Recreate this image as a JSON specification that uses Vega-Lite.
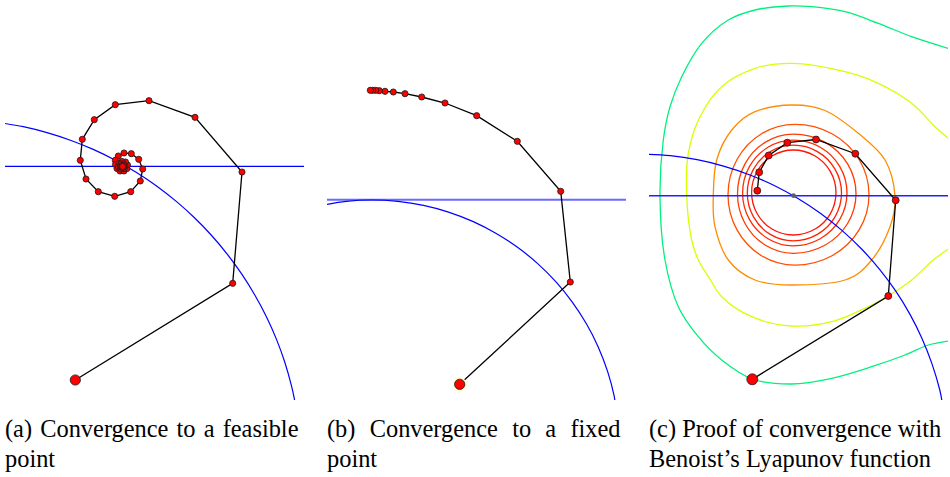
{
  "$schema": "https://vega.github.io/schema/vega-lite/v6.json",
  "background": "white",
  "padding": {"left": 5, "top": 0, "right": 0, "bottom": 0},
  "spacing": 23,
  "config": {
    "view": {"stroke": null},
    "title": {"fontSize": 24.4, "fontWeight": "normal", "color": "#000000", "orient": "bottom", "anchor": "start", "frame": "group", "offset": 17, "lineHeight": 30}
  },
  "hconcat": [
    {
      "spacing": 0,
      "vconcat": [{
      "width": 299, "height": 400,
      "data": {"values": [
        {"s":"arc","i":0,"x":5,"y":123.5},{"s":"arc","i":1,"x":23.2,"y":126.7},{"s":"arc","i":2,"x":47,"y":132.6},{"s":"arc","i":3,"x":70.4,"y":140.2},{"s":"arc","i":4,"x":93.2,"y":149.4},{"s":"arc","i":5,"x":115.3,"y":160.2},{"s":"arc","i":6,"x":136.5,"y":172.5},{"s":"arc","i":7,"x":156.9,"y":186.2},{"s":"arc","i":8,"x":176.3,"y":201.4},{"s":"arc","i":9,"x":194.5,"y":217.8},{"s":"arc","i":10,"x":211.6,"y":235.5},{"s":"arc","i":11,"x":227.4,"y":254.3},{"s":"arc","i":12,"x":241.8,"y":274.2},{"s":"arc","i":13,"x":254.8,"y":295},{"s":"arc","i":14,"x":266.4,"y":316.7},{"s":"arc","i":15,"x":276.4,"y":339.1},{"s":"arc","i":16,"x":284.8,"y":362.2},{"s":"arc","i":17,"x":291.5,"y":385.9},{"s":"arc","i":18,"x":294.6,"y":400},
        {"s":"hline","i":0,"x":5,"y":166.3},{"s":"hline","i":1,"x":304,"y":166.3},
        {"s":"path","i":0,"x":75.3,"y":380},{"s":"path","i":1,"x":232.7,"y":283.3},{"s":"path","i":2,"x":242,"y":172},{"s":"path","i":3,"x":195,"y":117.3},{"s":"path","i":4,"x":149,"y":100.7},{"s":"path","i":5,"x":115.3,"y":104.7},{"s":"path","i":6,"x":94.3,"y":119.7},{"s":"path","i":7,"x":82.3,"y":139.3},{"s":"path","i":8,"x":80.3,"y":160.3},{"s":"path","i":9,"x":86,"y":179},{"s":"path","i":10,"x":98.3,"y":191.7},{"s":"path","i":11,"x":114.7,"y":196.3},{"s":"path","i":12,"x":130.7,"y":191.7},{"s":"path","i":13,"x":140.3,"y":181},{"s":"path","i":14,"x":142.7,"y":169},{"s":"path","i":15,"x":138.7,"y":159.3},{"s":"path","i":16,"x":131.3,"y":153.7},{"s":"path","i":17,"x":124,"y":153},{"s":"path","i":18,"x":118.3,"y":156},{"s":"path","i":19,"x":115.3,"y":160.3},{"s":"path","i":20,"x":115.5,"y":164.5},{"s":"path","i":21,"x":117,"y":168.5},{"s":"path","i":22,"x":120,"y":171},{"s":"path","i":23,"x":124,"y":171},{"s":"path","i":24,"x":127,"y":168.5},{"s":"path","i":25,"x":127.5,"y":165},{"s":"path","i":26,"x":125.5,"y":162},{"s":"path","i":27,"x":122,"y":161.5},{"s":"path","i":28,"x":119,"y":163.5},{"s":"path","i":29,"x":118.5,"y":167},{"s":"path","i":30,"x":121,"y":169},{"s":"path","i":31,"x":124,"y":168.5},{"s":"path","i":32,"x":125,"y":166},{"s":"path","i":33,"x":123.5,"y":163.8},{"s":"path","i":34,"x":121,"y":164.2},{"s":"path","i":35,"x":120.3,"y":166.5},{"s":"path","i":36,"x":122,"y":167.8},{"s":"path","i":37,"x":123.7,"y":167},{"s":"path","i":38,"x":123.2,"y":165.3},{"s":"path","i":39,"x":121.8,"y":165.5},{"s":"path","i":40,"x":122,"y":166.5},{"s":"path","i":41,"x":122.6,"y":166.4}
      ]},
      "encoding": {
        "x": {"field":"x","type":"quantitative","scale":{"domain":[5,304],"nice":false,"zero":false},"axis":null},
        "y": {"field":"y","type":"quantitative","scale":{"domain":[0,400],"reverse":true,"nice":false,"zero":false},"axis":null}
      },
      "layer": [
        {"transform":[{"filter":"datum.s==='arc'"}],"mark":{"type":"line","color":"#0000ff","strokeWidth":1.2,"clip":true,"interpolate":"catmull-rom"},"encoding":{"order":{"field":"i"}}},
        {"transform":[{"filter":"datum.s==='hline'"}],"mark":{"type":"line","color":"#0000ff","strokeWidth":1.3,"clip":true},"encoding":{"order":{"field":"i"}}},
        {"transform":[{"filter":"datum.s==='path'"}],"mark":{"type":"line","color":"#000000","strokeWidth":1.3},"encoding":{"order":{"field":"i"}}},
        {"transform":[{"filter":"datum.s==='path' && datum.i>0"}],"mark":{"type":"circle","fill":"#ff0000","stroke":"#1a1a1a","strokeWidth":0.8,"opacity":1,"size":38}},
        {"transform":[{"filter":"datum.s==='path' && datum.i===0"}],"mark":{"type":"circle","fill":"#ff0000","stroke":"#1a1a1a","strokeWidth":0.8,"opacity":1,"size":105}}
      ]
      },
      {
        "width": 299, "height": 1,
        "title": {"text": ["(a) \u200AConvergence \u200Ato \u200Aa \u200Afeasible", "point"], "font": "Liberation Serif"},
        "data": {"values": [{"cx":0,"cy":0},{"cx":1,"cy":0}]},
        "mark": {"type":"line","opacity":0},
        "encoding": {
          "x": {"field":"cx","type":"quantitative","axis":null},
          "y": {"field":"cy","type":"quantitative","axis":null}
        }
      }]
    },
    {
      "spacing": 0,
      "vconcat": [{
      "width": 299, "height": 400,
      "data": {"values": [
        {"s":"arc","i":0,"x":327,"y":204.4},{"s":"arc","i":1,"x":346.1,"y":201.4},{"s":"arc","i":2,"x":372,"y":200},{"s":"arc","i":3,"x":397.9,"y":201.4},{"s":"arc","i":4,"x":423.5,"y":205.4},{"s":"arc","i":5,"x":448.5,"y":212.1},{"s":"arc","i":6,"x":472.7,"y":221.4},{"s":"arc","i":7,"x":495.8,"y":233.2},{"s":"arc","i":8,"x":517.5,"y":247.3},{"s":"arc","i":9,"x":537.7,"y":263.6},{"s":"arc","i":10,"x":556,"y":281.9},{"s":"arc","i":11,"x":572.3,"y":302.1},{"s":"arc","i":12,"x":586.4,"y":323.8},{"s":"arc","i":13,"x":598.2,"y":346.9},{"s":"arc","i":14,"x":607.5,"y":371.1},{"s":"arc","i":15,"x":614.2,"y":396.1},{"s":"arc","i":16,"x":614.8,"y":400},
        {"s":"hline","i":0,"x":327,"y":199.7},{"s":"hline","i":1,"x":626,"y":199.7},
        {"s":"path","i":0,"x":459.7,"y":384.3},{"s":"path","i":1,"x":570.3,"y":282},{"s":"path","i":2,"x":560.7,"y":191.3},{"s":"path","i":3,"x":517.3,"y":141.3},{"s":"path","i":4,"x":476.7,"y":115.7},{"s":"path","i":5,"x":445,"y":103},{"s":"path","i":6,"x":421.7,"y":97},{"s":"path","i":7,"x":405,"y":93.7},{"s":"path","i":8,"x":393.3,"y":92},{"s":"path","i":9,"x":385,"y":91.3},{"s":"path","i":10,"x":379.3,"y":90.7},{"s":"path","i":11,"x":375.7,"y":90.3},{"s":"path","i":12,"x":372.7,"y":90.3},{"s":"path","i":13,"x":370.3,"y":90.3}
      ]},
      "encoding": {
        "x": {"field":"x","type":"quantitative","scale":{"domain":[327,626],"nice":false,"zero":false},"axis":null},
        "y": {"field":"y","type":"quantitative","scale":{"domain":[0,400],"reverse":true,"nice":false,"zero":false},"axis":null}
      },
      "layer": [
        {"transform":[{"filter":"datum.s==='hline'"}],"mark":{"type":"line","color":"#6a6aff","strokeWidth":2,"clip":true},"encoding":{"order":{"field":"i"}}},
        {"transform":[{"filter":"datum.s==='arc'"}],"mark":{"type":"line","color":"#0000ff","strokeWidth":1.2,"clip":true,"interpolate":"catmull-rom"},"encoding":{"order":{"field":"i"}}},
        {"transform":[{"filter":"datum.s==='path'"}],"mark":{"type":"line","color":"#000000","strokeWidth":1.3},"encoding":{"order":{"field":"i"}}},
        {"transform":[{"filter":"datum.s==='path' && datum.i===0"}],"mark":{"type":"circle","fill":"#ffffc0","opacity":1,"size":190}},
        {"transform":[{"filter":"datum.s==='path' && datum.i>0"}],"mark":{"type":"circle","fill":"#ff0000","stroke":"#1a1a1a","strokeWidth":0.8,"opacity":1,"size":38}},
        {"transform":[{"filter":"datum.s==='path' && datum.i===0"}],"mark":{"type":"circle","fill":"#ff0000","stroke":"#1a1a1a","strokeWidth":0.8,"opacity":1,"size":105}}
      ]
      },
      {
        "width": 299, "height": 1,
        "title": {"text": ["(b)\u2002\u200AConvergence\u2002\u200Ato\u2002\u200Aa\u2002\u200Afixed", "point"], "font": "Liberation Serif"},
        "data": {"values": [{"cx":0,"cy":0},{"cx":1,"cy":0}]},
        "mark": {"type":"line","opacity":0},
        "encoding": {
          "x": {"field":"cx","type":"quantitative","axis":null},
          "y": {"field":"cy","type":"quantitative","axis":null}
        }
      }]
    },
    {
      "spacing": 0,
      "vconcat": [{
      "width": 299, "height": 400,
      "data": {"values": [
        {"s":"r1","i":0,"x":836,"y":192.5},{"s":"r1","i":1,"x":830.3,"y":171.3},{"s":"r1","i":2,"x":814.7,"y":155.7},{"s":"r1","i":3,"x":793.3,"y":150},{"s":"r1","i":4,"x":772.4,"y":155.7},{"s":"r1","i":5,"x":757.2,"y":171.3},{"s":"r1","i":6,"x":751.6,"y":192.5},{"s":"r1","i":7,"x":757.2,"y":213.8},{"s":"r1","i":8,"x":772.4,"y":229.3},{"s":"r1","i":9,"x":793.3,"y":235},{"s":"r1","i":10,"x":814.7,"y":229.3},{"s":"r1","i":11,"x":830.3,"y":213.8},
        {"s":"r2","i":0,"x":841.5,"y":193},{"s":"r2","i":1,"x":835,"y":169.1},{"s":"r2","i":2,"x":817.4,"y":151.6},{"s":"r2","i":3,"x":793.3,"y":145.2},{"s":"r2","i":4,"x":770.3,"y":151.6},{"s":"r2","i":5,"x":753.5,"y":169.1},{"s":"r2","i":6,"x":747.3,"y":193},{"s":"r2","i":7,"x":753.5,"y":216.9},{"s":"r2","i":8,"x":770.3,"y":234.4},{"s":"r2","i":9,"x":793.3,"y":240.8},{"s":"r2","i":10,"x":817.4,"y":234.4},{"s":"r2","i":11,"x":835,"y":216.9},
        {"s":"r3","i":0,"x":847,"y":193},{"s":"r3","i":1,"x":839.8,"y":166.6},{"s":"r3","i":2,"x":820.2,"y":147.3},{"s":"r3","i":3,"x":793.3,"y":140.2},{"s":"r3","i":4,"x":768,"y":147.3},{"s":"r3","i":5,"x":749.4,"y":166.6},{"s":"r3","i":6,"x":742.6,"y":193},{"s":"r3","i":7,"x":749.4,"y":219.4},{"s":"r3","i":8,"x":768,"y":238.7},{"s":"r3","i":9,"x":793.3,"y":245.8},{"s":"r3","i":10,"x":820.2,"y":238.7},{"s":"r3","i":11,"x":839.8,"y":219.4},
        {"s":"r4","i":0,"x":856,"y":193.7},{"s":"r4","i":1,"x":847.6,"y":163.9},{"s":"r4","i":2,"x":824.8,"y":142.1},{"s":"r4","i":3,"x":793.5,"y":134.1},{"s":"r4","i":4,"x":765.5,"y":142.1},{"s":"r4","i":5,"x":745,"y":163.9},{"s":"r4","i":6,"x":737.5,"y":193.7},{"s":"r4","i":7,"x":745,"y":223.5},{"s":"r4","i":8,"x":765.5,"y":245.3},{"s":"r4","i":9,"x":793.5,"y":253.3},{"s":"r4","i":10,"x":824.8,"y":245.3},{"s":"r4","i":11,"x":847.6,"y":223.5},
        {"s":"r5","i":0,"x":869,"y":194.7},{"s":"r5","i":1,"x":859.1,"y":159.5},{"s":"r5","i":2,"x":832,"y":133.7},{"s":"r5","i":3,"x":795,"y":124.3},{"s":"r5","i":4,"x":761.5,"y":133.7},{"s":"r5","i":5,"x":737,"y":159.5},{"s":"r5","i":6,"x":728,"y":194.7},{"s":"r5","i":7,"x":737,"y":229.9},{"s":"r5","i":8,"x":761.5,"y":255.7},{"s":"r5","i":9,"x":795,"y":265.1},{"s":"r5","i":10,"x":832,"y":255.7},{"s":"r5","i":11,"x":859.1,"y":229.9},
        {"s":"r6","i":0,"x":791.7,"y":105},{"s":"r6","i":1,"x":825,"y":110.5},{"s":"r6","i":2,"x":858.3,"y":133.3},{"s":"r6","i":3,"x":885,"y":160},{"s":"r6","i":4,"x":895,"y":195.7},{"s":"r6","i":5,"x":890,"y":226.7},{"s":"r6","i":6,"x":871.7,"y":260},{"s":"r6","i":7,"x":845,"y":280},{"s":"r6","i":8,"x":791.7,"y":285},{"s":"r6","i":9,"x":755,"y":280},{"s":"r6","i":10,"x":728.3,"y":260},{"s":"r6","i":11,"x":715,"y":226.7},{"s":"r6","i":12,"x":713.3,"y":195.7},{"s":"r6","i":13,"x":716.7,"y":160},{"s":"r6","i":14,"x":731.7,"y":130},{"s":"r6","i":15,"x":755,"y":111.7},
        {"s":"yellow","i":0,"x":948.5,"y":138.5},{"s":"yellow","i":1,"x":935,"y":126.7},{"s":"yellow","i":2,"x":911.7,"y":103.3},{"s":"yellow","i":3,"x":878.3,"y":83.3},{"s":"yellow","i":4,"x":845,"y":71.7},{"s":"yellow","i":5,"x":791.7,"y":63.3},{"s":"yellow","i":6,"x":755,"y":68.3},{"s":"yellow","i":7,"x":721.7,"y":86.7},{"s":"yellow","i":8,"x":700,"y":116.7},{"s":"yellow","i":9,"x":688.3,"y":153.3},{"s":"yellow","i":10,"x":686.7,"y":195.7},{"s":"yellow","i":11,"x":691.7,"y":240},{"s":"yellow","i":12,"x":698.3,"y":260},{"s":"yellow","i":13,"x":710.5,"y":280},{"s":"yellow","i":14,"x":721.7,"y":296.7},{"s":"yellow","i":15,"x":751.7,"y":316.7},{"s":"yellow","i":16,"x":791.7,"y":326},{"s":"yellow","i":17,"x":831.7,"y":321.7},{"s":"yellow","i":18,"x":871.7,"y":305},{"s":"yellow","i":19,"x":888.3,"y":296},{"s":"yellow","i":20,"x":911.7,"y":280},{"s":"yellow","i":21,"x":933.3,"y":260},{"s":"yellow","i":22,"x":948.5,"y":249},
        {"s":"green","i":0,"x":948.5,"y":48.5},{"s":"green","i":1,"x":911.7,"y":36.7},{"s":"green","i":2,"x":878.3,"y":23.3},{"s":"green","i":3,"x":845,"y":11.7},{"s":"green","i":4,"x":811.7,"y":6.7},{"s":"green","i":5,"x":788.3,"y":6},{"s":"green","i":6,"x":755,"y":10},{"s":"green","i":7,"x":728.3,"y":20},{"s":"green","i":8,"x":701.7,"y":43.3},{"s":"green","i":9,"x":681.7,"y":76.7},{"s":"green","i":10,"x":670,"y":106.7},{"s":"green","i":11,"x":663.3,"y":140},{"s":"green","i":12,"x":660,"y":195.7},{"s":"green","i":13,"x":665,"y":260},{"s":"green","i":14,"x":678.3,"y":306.7},{"s":"green","i":15,"x":698.3,"y":336.7},{"s":"green","i":16,"x":721.7,"y":360},{"s":"green","i":17,"x":752.3,"y":379},{"s":"green","i":18,"x":791.7,"y":384},{"s":"green","i":19,"x":831.7,"y":378.3},{"s":"green","i":20,"x":871.7,"y":366.7},{"s":"green","i":21,"x":905,"y":355},{"s":"green","i":22,"x":928.3,"y":345},{"s":"green","i":23,"x":948.5,"y":341},
        {"s":"arc","i":0,"x":649,"y":154.4},{"s":"arc","i":1,"x":670.2,"y":155.7},{"s":"arc","i":2,"x":697.1,"y":159.7},{"s":"arc","i":3,"x":723.5,"y":166.1},{"s":"arc","i":4,"x":749.3,"y":174.7},{"s":"arc","i":5,"x":774.2,"y":185.5},{"s":"arc","i":6,"x":798,"y":198.5},{"s":"arc","i":7,"x":820.7,"y":213.5},{"s":"arc","i":8,"x":841.9,"y":230.4},{"s":"arc","i":9,"x":861.6,"y":249},{"s":"arc","i":10,"x":879.6,"y":269.4},{"s":"arc","i":11,"x":895.8,"y":291.2},{"s":"arc","i":12,"x":910,"y":314.4},{"s":"arc","i":13,"x":922.1,"y":338.7},{"s":"arc","i":14,"x":932,"y":363.9},{"s":"arc","i":15,"x":939.8,"y":390},{"s":"arc","i":16,"x":941.8,"y":400},
        {"s":"hline","i":0,"x":649,"y":195.7},{"s":"hline","i":1,"x":948,"y":195.7},
        {"s":"center","i":0,"x":793.5,"y":195.7},
        {"s":"path","i":0,"x":752.3,"y":379.3},{"s":"path","i":1,"x":888.3,"y":296},{"s":"path","i":2,"x":895.7,"y":200.3},{"s":"path","i":3,"x":855.3,"y":153.7},{"s":"path","i":4,"x":816,"y":139.5},{"s":"path","i":5,"x":787.3,"y":142.7},{"s":"path","i":6,"x":768.7,"y":155.5},{"s":"path","i":7,"x":759.2,"y":172.3},{"s":"path","i":8,"x":757.3,"y":190.7}
      ]},
      "encoding": {
        "x": {"field":"x","type":"quantitative","scale":{"domain":[649,948],"nice":false,"zero":false},"axis":null},
        "y": {"field":"y","type":"quantitative","scale":{"domain":[0,400],"reverse":true,"nice":false,"zero":false},"axis":null}
      },
      "layer": [
        {"transform":[{"filter":"indexof(['r1','r2','r3','r4','r5','r6'], datum.s) >= 0"}],"mark":{"type":"line","strokeWidth":1.3,"clip":true,"interpolate":"cardinal-closed"},"encoding":{"order":{"field":"i"},"detail":{"field":"s"},"color":{"field":"s","type":"nominal","legend":null,"scale":{"domain":["r1","r2","r3","r4","r5","r6","yellow","green"],"range":["#ff1400","#ff2000","#ff2c00","#ff3c00","#ff5000","#ff8c00","#d8ff00","#00f07c"]}}}},
        {"transform":[{"filter":"datum.s==='yellow' || datum.s==='green'"}],"mark":{"type":"line","strokeWidth":1.3,"clip":true,"interpolate":"catmull-rom"},"encoding":{"order":{"field":"i"},"detail":{"field":"s"},"color":{"field":"s","type":"nominal","legend":null,"scale":{"domain":["r1","r2","r3","r4","r5","r6","yellow","green"],"range":["#ff1400","#ff2000","#ff2c00","#ff3c00","#ff5000","#ff8c00","#d8ff00","#00f07c"]}}}},
        {"transform":[{"filter":"datum.s==='hline'"}],"mark":{"type":"line","color":"#2020ff","strokeWidth":1.6,"clip":true},"encoding":{"order":{"field":"i"}}},
        {"transform":[{"filter":"datum.s==='arc'"}],"mark":{"type":"line","color":"#0000ff","strokeWidth":1.2,"clip":true,"interpolate":"catmull-rom"},"encoding":{"order":{"field":"i"}}},
        {"transform":[{"filter":"datum.s==='center'"}],"mark":{"type":"circle","fill":"#606060","opacity":1,"size":22}},
        {"transform":[{"filter":"datum.s==='path'"}],"mark":{"type":"line","color":"#000000","strokeWidth":1.3},"encoding":{"order":{"field":"i"}}},
        {"transform":[{"filter":"datum.s==='path' && datum.i>0"}],"mark":{"type":"circle","fill":"#ff0000","stroke":"#1a1a1a","strokeWidth":0.8,"opacity":1,"size":48}},
        {"transform":[{"filter":"datum.s==='path' && datum.i===0"}],"mark":{"type":"circle","fill":"#ff0000","stroke":"#1a1a1a","strokeWidth":0.8,"opacity":1,"size":120}}
      ]
      },
      {
        "width": 299, "height": 1,
        "title": {"text": ["(c) Proof of convergence with", "Benoist\u2019s Lyapunov function"], "font": "Liberation Serif"},
        "data": {"values": [{"cx":0,"cy":0},{"cx":1,"cy":0}]},
        "mark": {"type":"line","opacity":0},
        "encoding": {
          "x": {"field":"cx","type":"quantitative","axis":null},
          "y": {"field":"cy","type":"quantitative","axis":null}
        }
      }]
    }
  ]
}
